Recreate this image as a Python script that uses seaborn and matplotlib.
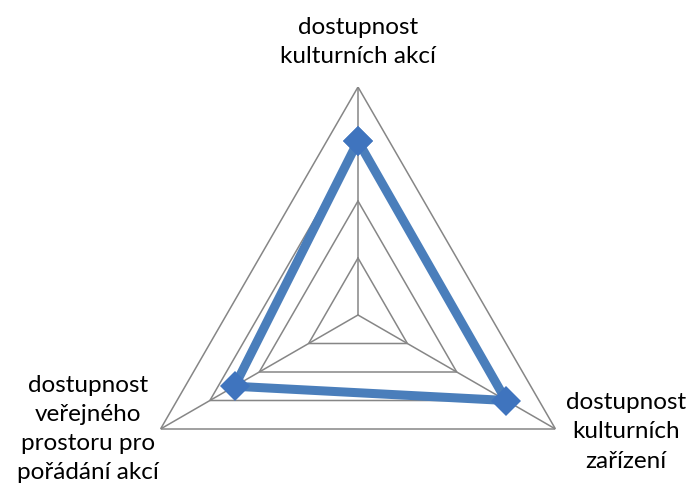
import numpy as np
import pandas as pd
import matplotlib
matplotlib.use('Agg')
import matplotlib.pyplot as plt
import seaborn as sns

# Data
kategorie = ['dostupnost\nkulturních akcí',
             'dostupnost\nkulturních\nzařízení',
             'dostupnost\nveřejného\nprostoru pro\npořádání akcí']
hodnoty = [3.05, 3.0, 2.5]
urovne = [1, 2, 3, 4]

sns.set_style('white')
plt.rcParams['font.family'] = ['Lato', 'DejaVu Sans']

n = len(kategorie)
uhly = np.linspace(0, 2 * np.pi, n, endpoint=False)

# uzavreni polygonu (posledni bod = prvni, uhel 2*pi)
df = pd.DataFrame({'uhel': np.append(uhly, 2 * np.pi),
                   'hodnota': hodnoty + hodnoty[:1]})

W, H = 690, 491
fig = plt.figure(figsize=(W / 100, H / 100), dpi=100)
cx, cy, R = 358, 315, 228
ax = fig.add_axes([(cx - R) / W, (H - cy - R) / H, 2 * R / W, 2 * R / H],
                  projection='polar')
ax.set_theta_offset(np.pi / 2)
ax.set_theta_direction(-1)
ax.set_ylim(0, max(urovne))
ax.grid(False)
ax.spines['polar'].set_visible(False)
ax.set_xticks([])
ax.set_yticks([])
ax.patch.set_alpha(0)

# polygonova mrizka
seda = '#868686'
for u in urovne:
    ax.plot(np.append(uhly, uhly[0]), [u] * (n + 1), color=seda, lw=1.1, zorder=1)
for a in uhly:
    ax.plot([a, a], [0, max(urovne)], color=seda, lw=1.1, zorder=1)

sns.lineplot(data=df, x='uhel', y='hodnota', ax=ax, sort=False, estimator=None,
             color='#4A7EBB', lw=6.5, marker='D', markersize=15,
             markeredgewidth=0, markerfacecolor='#3F74BE', zorder=3)
ax.set_xlabel('')
ax.set_ylabel('')

# popisky kategorii
pozice = [(358, 42), (626, 432), (88, 429)]
for text, (x, y) in zip(kategorie, pozice):
    fig.text(x / W, 1 - y / H, text, ha='center', va='center',
             fontsize=17.5, linespacing=1.48, color='black')

fig.savefig('out.png', dpi=100)
